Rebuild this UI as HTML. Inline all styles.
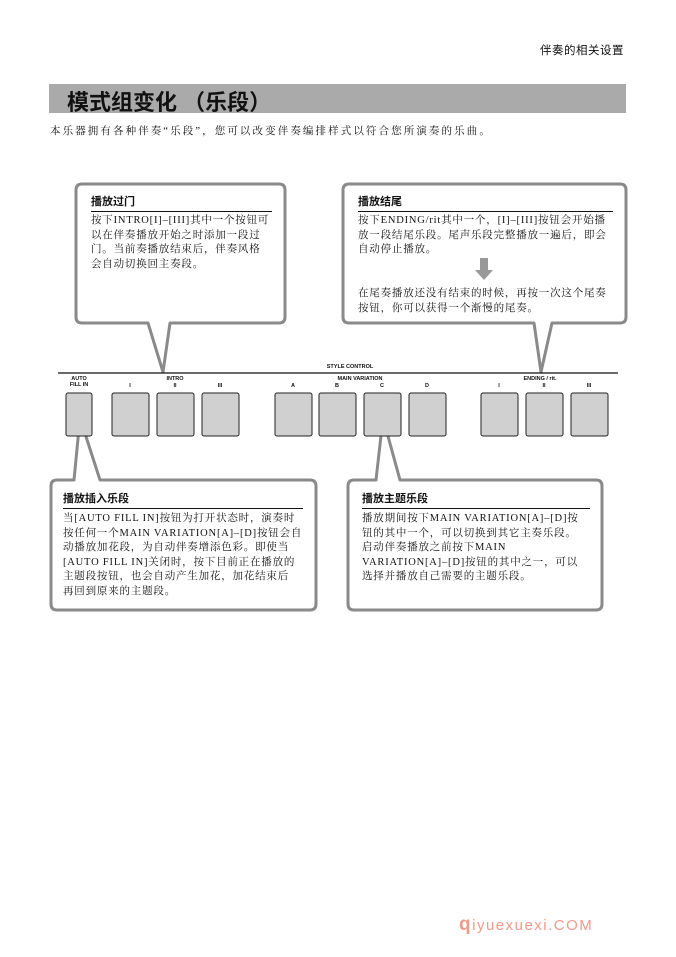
<!DOCTYPE html>
<html><head><meta charset="utf-8"><style>
body{margin:0;width:676px;height:957px;background:#fff;position:relative;overflow:hidden;font-family:"Liberation Serif","Noto Serif CJK SC","Noto Sans CJK SC",serif;color:#111}
.a{position:absolute;white-space:nowrap}
.s{font-family:"Liberation Sans","Noto Sans CJK SC",sans-serif}
.p{position:absolute;font-size:10.5px;line-height:14.5px;letter-spacing:0.8px;white-space:nowrap}
.h{position:absolute;font-family:"Liberation Sans","Noto Sans CJK SC",sans-serif;font-weight:bold;font-size:11px;border-bottom:1.5px solid #111;padding-bottom:2px}
.l{position:absolute;font-family:"Liberation Sans",sans-serif;font-weight:bold;font-size:5.5px;text-align:center}
</style></head><body>
<svg width="676" height="957" style="position:absolute;left:0;top:0">
<rect x="49" y="84" width="577" height="29" fill="#aaaaaa"/>
<g fill="#fff" stroke="#8a8a8a" stroke-width="3" stroke-linejoin="round">
<path d="M82 184 H279 Q285 184 285 190 V317 Q285 323 279 323 H170 L163 372 L148 323 H82 Q76 323 76 317 V190 Q76 184 82 184Z"/>
<path d="M349 184 H620 Q626 184 626 190 V317 Q626 323 620 323 H552 L541 372 L534 323 H349 Q343 323 343 317 V190 Q343 184 349 184Z"/>
<path d="M57 480 H74 L80 418 L100 480 H310 Q316 480 316 486 V604 Q316 610 310 610 H57 Q51 610 51 604 V486 Q51 480 57 480Z"/>
<path d="M354 480 H376 L383 418 L400 480 H596 Q602 480 602 486 V604 Q602 610 596 610 H354 Q348 610 348 604 V486 Q348 480 354 480Z"/>
</g>
<line x1="58" y1="373" x2="618" y2="373" stroke="#111" stroke-width="1.2"/>
<g fill="#d0d0d0" stroke="#222" stroke-width="1">
<rect x="66" y="393" width="26" height="43" rx="2"/>
<rect x="112" y="393" width="37" height="43" rx="2"/>
<rect x="157" y="393" width="37" height="43" rx="2"/>
<rect x="202" y="393" width="37" height="43" rx="2"/>
<rect x="275" y="393" width="37" height="43" rx="2"/>
<rect x="319" y="393" width="37" height="43" rx="2"/>
<rect x="364" y="393" width="37" height="43" rx="2"/>
<rect x="409" y="393" width="37" height="43" rx="2"/>
<rect x="481" y="393" width="37" height="43" rx="2"/>
<rect x="526" y="393" width="37" height="43" rx="2"/>
<rect x="571" y="393" width="37" height="43" rx="2"/>
</g>
<path d="M480 258 H488 V270 H493 L484 280 L475 270 H480Z" fill="#999"/>
</svg>
<div class="a s" style="left:540px;top:42px;font-size:11.5px;letter-spacing:0.5px">伴奏的相关设置</div>
<div class="a s" style="left:67px;top:85px;font-size:22px;font-weight:bold;letter-spacing:0px">模式组变化 （乐段）</div>
<div class="a" style="left:50px;top:123px;font-size:10.5px;letter-spacing:2.1px">本乐器拥有各种伴奏“乐段”，您可以改变伴奏编排样式以符合您所演奏的乐曲。</div>

<div class="h" style="left:91px;top:193px;width:181px">播放过门</div>
<div class="p" style="left:91px;top:214px">按下INTRO[I]–[III]其中一个按钮可<br>以在伴奏播放开始之时添加一段过<br>门。当前奏播放结束后，伴奏风格<br>会自动切换回主奏段。</div>

<div class="h" style="left:358px;top:193px;width:255px">播放结尾</div>
<div class="p" style="left:358px;top:214px">按下ENDING/rit其中一个，[I]–[III]按钮会开始播<br>放一段结尾乐段。尾声乐段完整播放一遍后，即会<br>自动停止播放。</div>
<div class="p" style="left:358px;top:287px">在尾奏播放还没有结束的时候，再按一次这个尾奏<br>按钮，你可以获得一个渐慢的尾奏。</div>

<div class="h" style="left:63px;top:490px;width:240px">播放插入乐段</div>
<div class="p" style="left:63px;top:512px">当[AUTO FILL IN]按钮为打开状态时，演奏时<br>按任何一个MAIN VARIATION[A]–[D]按钮会自<br>动播放加花段，为自动伴奏增添色彩。即使当<br>[AUTO FILL IN]关闭时，按下目前正在播放的<br>主题段按钮，也会自动产生加花，加花结束后<br>再回到原来的主题段。</div>

<div class="h" style="left:362px;top:490px;width:228px">播放主题乐段</div>
<div class="p" style="left:362px;top:512px">播放期间按下MAIN VARIATION[A]–[D]按<br>钮的其中一个，可以切换到其它主奏乐段。<br>启动伴奏播放之前按下MAIN<br>VARIATION[A]–[D]按钮的其中之一，可以<br>选择并播放自己需要的主题乐段。</div>

<div class="l" style="left:300px;top:364px;width:100px">STYLE CONTROL</div>
<div class="l" style="left:60px;top:376px;width:38px;line-height:6px">AUTO<br>FILL IN</div>
<div class="l" style="left:150px;top:376px;width:50px">INTRO</div>
<div class="l" style="left:310px;top:376px;width:100px">MAIN VARIATION</div>
<div class="l" style="left:510px;top:376px;width:60px">ENDING / rit.</div>
<div class="l" style="left:120px;top:383px;width:20px">I</div>
<div class="l" style="left:165px;top:383px;width:20px">II</div>
<div class="l" style="left:210px;top:383px;width:20px">III</div>
<div class="l" style="left:283px;top:383px;width:20px">A</div>
<div class="l" style="left:327px;top:383px;width:20px">B</div>
<div class="l" style="left:372px;top:383px;width:20px">C</div>
<div class="l" style="left:417px;top:383px;width:20px">D</div>
<div class="l" style="left:489px;top:383px;width:20px">I</div>
<div class="l" style="left:534px;top:383px;width:20px">II</div>
<div class="l" style="left:579px;top:383px;width:20px">III</div>

<div class="a s" style="left:459px;top:914px;font-size:15px;color:#f39a8a;letter-spacing:1.5px"><b style="font-size:19px">q</b>iyuexuexi.COM</div>
</body></html>
